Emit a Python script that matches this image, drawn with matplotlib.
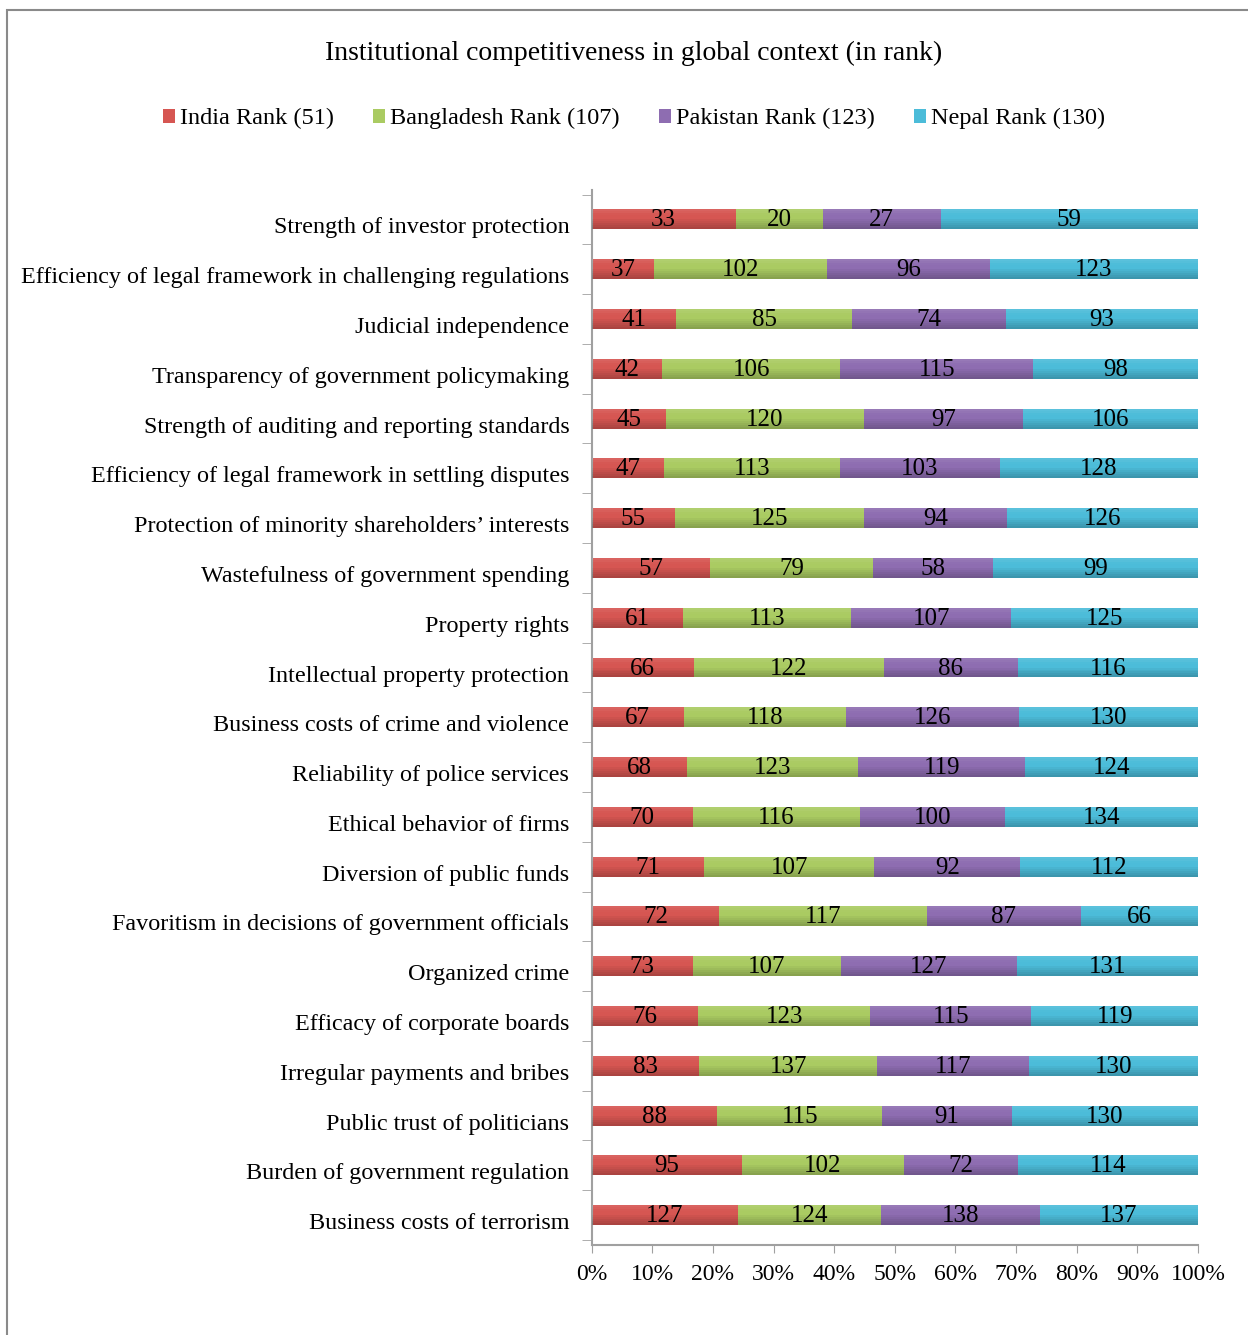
import numpy as np
import matplotlib.pyplot as plt
import matplotlib.transforms as mtransforms
from matplotlib.patches import Rectangle

# -- data (top to bottom as in the chart)
categories = [
    "Strength of investor protection",
    "Efficiency of legal framework in challenging regulations",
    "Judicial independence",
    "Transparency of government policymaking",
    "Strength of auditing and reporting standards",
    "Efficiency of legal framework in settling disputes",
    "Protection of minority shareholders\u2019 interests",
    "Wastefulness of government spending",
    "Property rights",
    "Intellectual property protection",
    "Business costs of crime and violence",
    "Reliability of police services",
    "Ethical behavior of firms",
    "Diversion of public funds",
    "Favoritism in decisions of government officials",
    "Organized crime",
    "Efficacy of corporate boards",
    "Irregular payments and bribes",
    "Public trust of politicians",
    "Burden of government regulation",
    "Business costs of terrorism",
]
india = [33, 37, 41, 42, 45, 47, 55, 57, 61, 66, 67, 68, 70, 71, 72, 73, 76, 83, 88, 95, 127]
bangladesh = [20, 102, 85, 106, 120, 113, 125, 79, 113, 122, 118, 123, 116, 107, 117, 107, 123, 137, 115, 102, 124]
pakistan = [27, 96, 74, 115, 97, 103, 94, 58, 107, 86, 126, 119, 100, 92, 87, 127, 115, 117, 91, 72, 138]
nepal = [59, 123, 93, 98, 106, 128, 126, 99, 125, 116, 130, 124, 134, 112, 66, 131, 119, 130, 130, 114, 137]
series_names = ["India Rank (51)", "Bangladesh Rank (107)", "Pakistan Rank (123)", "Nepal Rank (130)"]
colors = ["#D65652", "#AACB62", "#8E6DB1", "#4CBCD9"]
xticks = np.arange(0, 101, 10)

plt.rcParams['font.family'] = ['Liberation Serif', 'DejaVu Serif']

data = np.array([india, bangladesh, pakistan, nepal], dtype=float)
pct = data / data.sum(axis=0) * 100
n = len(categories)
ypos = np.arange(n)[::-1]

fig = plt.figure(figsize=(12.48, 13.35), dpi=100)
ax = fig.add_axes([0.474, 0.0674, 0.486, 0.7906])

bar_h = 0.4
nslice = 10
left = np.zeros(n)
handles = []
for k in range(4):
    h = ax.barh(ypos, pct[k], left=left, height=bar_h, color=colors[k],
                edgecolor='none', label=series_names[k], zorder=2)
    handles.append(h)
    # soft shading from light top to darker bottom (cylinder look)
    for j in range(nslice):
        f = (j + 0.5) / nslice          # 0 bottom .. 1 top
        yc = ypos - bar_h / 2 + f * bar_h
        if f < 0.55:
            ax.barh(yc, pct[k], left=left, height=bar_h / nslice, color='black',
                    alpha=0.22 * (0.55 - f) / 0.55, edgecolor='none', zorder=3)
        elif f > 0.7:
            ax.barh(yc, pct[k], left=left, height=bar_h / nslice, color='white',
                    alpha=0.10 * (f - 0.7) / 0.3, edgecolor='none', zorder=3)
    for i in range(n):
        ax.text(left[i] + pct[k][i] / 2, ypos[i] - 0.02, str(int(data[k][i])),
                ha='center', va='center', fontsize=18, color='black', zorder=4)
    left += pct[k]

ax.set_xlim(0, 100)
ax.set_ylim(-0.6, n - 0.4)
ax.set_xticks(xticks)
ax.set_xticklabels([f"{t}%" for t in xticks], fontsize=17)
ax.set_yticks(ypos)
ax.set_yticklabels(categories, fontsize=17.4)
ax.set_yticks(np.arange(-0.5, n, 1), minor=True)
ax.tick_params(axis='y', which='major', length=0, pad=16)
ax.tick_params(axis='y', which='minor', length=7, color='#A0A0A0', direction='out')
ax.tick_params(axis='x', length=6, color='#A0A0A0', direction='out', pad=8)
# labels sit a little below the bar centres in the original
shift = mtransforms.ScaledTranslation(0, -6 / 100, fig.dpi_scale_trans)
for lab in ax.get_yticklabels():
    lab.set_transform(lab.get_transform() + shift)
for s in ['top', 'right']:
    ax.spines[s].set_visible(False)
for s in ['left', 'bottom']:
    ax.spines[s].set_color('#A0A0A0')
    ax.spines[s].set_linewidth(1.5)

fig.text(0.508, 0.96, "Institutional competitiveness in global context (in rank)",
         ha='center', va='center', fontsize=20)
fig.legend(handles=handles, loc='center', bbox_to_anchor=(0.508, 0.911), ncol=4,
           frameon=False, fontsize=17.5, handlelength=0.5, handleheight=0.5,
           handletextpad=0.2, columnspacing=1.6)

fig.patches.append(Rectangle((0.006, -0.01), 1.0, 0.9925 + 0.01, transform=fig.transFigure,
                             fill=False, edgecolor='#8A8A8A', linewidth=1.5))

fig.savefig("out.png", dpi=100)
